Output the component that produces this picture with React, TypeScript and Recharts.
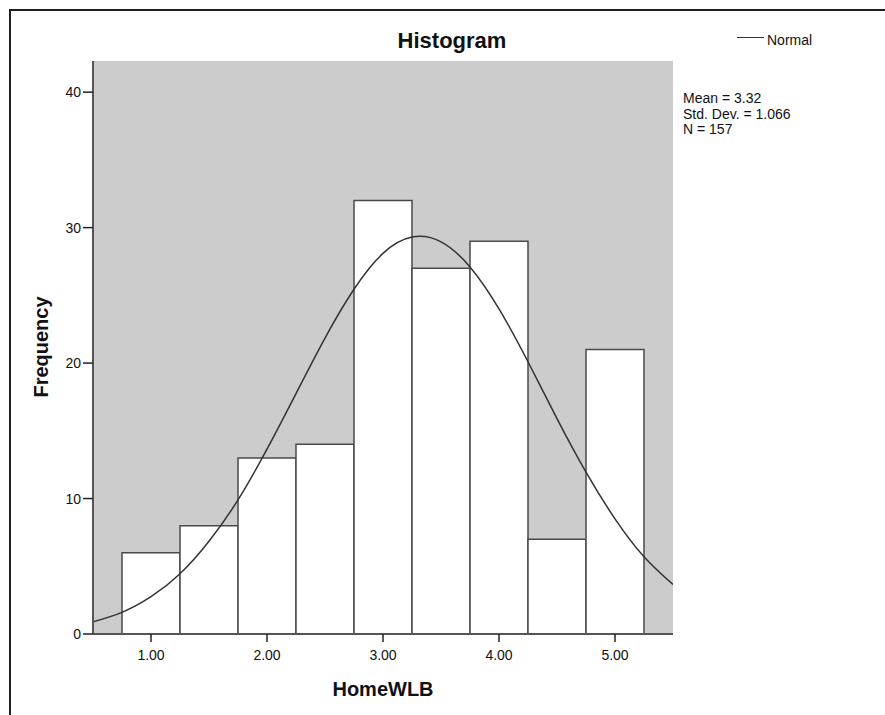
import { Bar, CartesianGrid, ComposedChart, Line, XAxis, YAxis } from "recharts";

// HomeWLB bins (centre of each 0.5-wide bin) and their counts
const binCenters = [1.0, 1.5, 2.0, 2.5, 3.0, 3.5, 4.0, 4.5, 5.0];
const binCounts = [6, 8, 13, 14, 32, 27, 29, 7, 21];

// normal curve, values
const curveX = [0.5, 0.75, 1.0, 1.25, 1.5, 1.75, 2.0, 2.25, 2.5, 2.75, 3.0, 3.25, 3.5, 3.75, 4.0, 4.25, 4.5, 4.75, 5.0, 5.25, 5.5];
const curveY = [0.9, 1.6, 2.75, 4.45, 6.85, 9.9, 13.65, 17.75, 21.85, 25.45, 28.1, 29.3, 28.95, 27.1, 24.0, 20.1, 15.9, 11.95, 8.5, 5.7, 3.65];

const xTicks = [1, 2, 3, 4, 5];
const yTicks = [0, 10, 20, 30, 40];
const statLines = ["Mean = 3.32", "Std. Dev. = 1.066", "N = 157"];

const bars = binCenters.map((x, i) => ({ x, count: binCounts[i] }));
const curve = curveX.map((x, i) => ({ x, y: curveY[i] }));

const FONT = '"Liberation Sans", Arial, sans-serif';
const FRAME = "#555555";

export default function App() {
  const tickStyle = { fontSize: 14, fill: "#111", fontFamily: FONT };

  return (
    <div style={{ position: "fixed", left: 0, top: 0, width: 885, height: 715, background: "#fff", overflow: "hidden", fontFamily: FONT }}>
      <div style={{ position: "absolute", left: 9, top: 9, right: -4, bottom: -4, borderTop: "2px solid #1e1e1e", borderLeft: "2px solid #1e1e1e" }} />

      <ComposedChart
        width={885}
        height={715}
        data={bars}
        barCategoryGap={0}
        barGap={0}
        margin={{ top: 61, right: 212, bottom: 51, left: 53 }}
        style={{ position: "absolute", left: 0, top: 0 }}
      >
        <CartesianGrid fill="#cccccc" horizontal={false} vertical={false} />
        <XAxis
          dataKey="x"
          type="number"
          domain={[0.5, 5.5]}
          allowDataOverflow
          ticks={xTicks}
          tickFormatter={(v: number) => v.toFixed(2)}
          height={30}
          tickSize={8}
          tickMargin={8}
          tick={tickStyle}
          stroke={FRAME}
          axisLine={{ stroke: FRAME, strokeWidth: 2 }}
          tickLine={{ stroke: "#222", strokeWidth: 1.5 }}
        />
        {/* bars get their own hidden axis so the bin width sets the band size */}
        <XAxis xAxisId="bins" dataKey="x" type="number" domain={[0.5, 5.5]} allowDataOverflow hide />
        <XAxis xAxisId="top" orientation="top" type="number" domain={[0.5, 5.5]} height={0} tick={false} tickLine={false} axisLine={{ stroke: FRAME, strokeWidth: 2 }} />
        <YAxis
          type="number"
          domain={[0, 42.3]}
          allowDataOverflow
          ticks={yTicks}
          width={40}
          tickSize={10}
          tick={tickStyle}
          axisLine={{ stroke: FRAME, strokeWidth: 2 }}
          tickLine={{ stroke: "#222", strokeWidth: 1.5 }}
        />
        <YAxis yAxisId="right" orientation="right" type="number" domain={[0, 42.3]} width={0} tick={false} tickLine={false} axisLine={{ stroke: FRAME, strokeWidth: 2 }} />
        <Bar xAxisId="bins" dataKey="count" fill="#ffffff" stroke="#4a4a4a" strokeWidth={1.5} isAnimationActive={false} />
        <Line data={curve} dataKey="y" type="natural" stroke="#333333" strokeWidth={1.5} dot={false} activeDot={false} isAnimationActive={false} />
      </ComposedChart>

      <div style={{ position: "absolute", left: 352, top: 30, width: 200, textAlign: "center", fontSize: 22, lineHeight: "22px", fontWeight: 700, color: "#111" }}>
        Histogram
      </div>

      <div style={{ position: "absolute", left: 737, top: 37, width: 27, height: 0, borderTop: "1.5px solid #333" }} />
      <div style={{ position: "absolute", left: 767, top: 33, fontSize: 14, lineHeight: "14px", color: "#111" }}>Normal</div>

      <div style={{ position: "absolute", left: 683, top: 91, fontSize: 14, lineHeight: "15.5px", color: "#111" }}>
        {statLines.map((s) => (
          <div key={s}>{s}</div>
        ))}
      </div>

      <div style={{ position: "absolute", left: 283, top: 679, width: 200, textAlign: "center", fontSize: 20, lineHeight: "20px", fontWeight: 700, color: "#111" }}>
        HomeWLB
      </div>

      <div
        style={{
          position: "absolute",
          left: -59,
          top: 337,
          width: 200,
          textAlign: "center",
          fontSize: 20,
          lineHeight: "20px",
          fontWeight: 700,
          color: "#111",
          transform: "rotate(-90deg)",
        }}
      >
        Frequency
      </div>
    </div>
  );
}
